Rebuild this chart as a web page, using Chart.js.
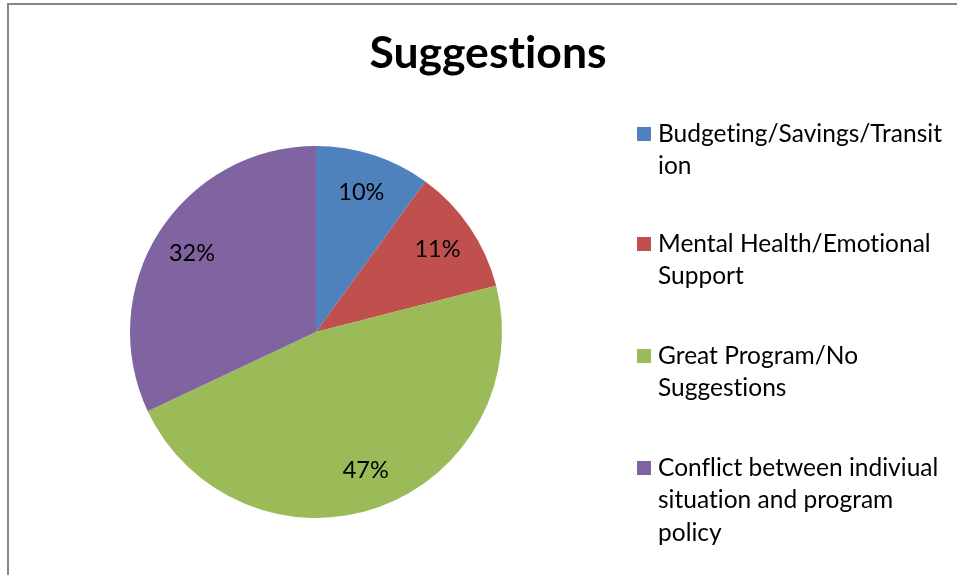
<!DOCTYPE html>
<html>
<head>
<meta charset="utf-8">
<script src="https://cdn.jsdelivr.net/npm/chart.js@4.4.1/dist/chart.umd.min.js"></script>
<style>
  html, body { margin: 0; padding: 0; background: #fff; overflow: hidden; }
  #frame {
    position: absolute; left: 7px; top: 3px;
    width: 960px; height: 600px;
    border: 2px solid #868686;
    background: #fff;
  }
</style>
</head>
<body>
<div id="frame"><canvas id="pie" width="960" height="600"></canvas></div>
<script>
// Datos del gráfico
const titleText = 'Suggestions';
const categories = [
    ['Budgeting/Savings/Transit', 'ion'],
    ['Mental Health/Emotional', 'Support'],
    ['Great Program/No', 'Suggestions'],
    ['Conflict between indiviual', 'situation and program', 'policy']
];
const percents = [10, 11, 47, 32];
const sliceColors = ['#4F81BD', '#C0504D', '#9BBB59', '#8064A2'];

const FONT = "Lato, 'Open Sans', sans-serif";

// Sin ligaduras (evita la "ti" unida de Lato)
function noLigatures(ctx) {
    if ('letterSpacing' in ctx) ctx.letterSpacing = '0.01px';
}

// Título, etiquetas de porcentaje y leyenda dibujados sobre el canvas
const decorations = {
    id: 'decorations',
    afterDatasetsDraw(chart) {
        const ctx = chart.ctx;
        const meta = chart.getDatasetMeta(0);
        ctx.save();
        ctx.fillStyle = '#000';
        ctx.textAlign = 'center';
        ctx.textBaseline = 'middle';
        ctx.font = '23.5px ' + FONT;
        meta.data.forEach((arc, i) => {
            const p = arc.getProps(['x', 'y', 'startAngle', 'endAngle', 'outerRadius'], true);
            const mid = (p.startAngle + p.endAngle) / 2;
            const r = p.outerRadius * 0.79;
            ctx.fillText(chart.data.datasets[0].data[i] + '%', p.x + Math.cos(mid) * r, p.y + Math.sin(mid) * r);
        });
        ctx.restore();
    },
    afterDraw(chart) {
        const ctx = chart.ctx;
        ctx.save();
        noLigatures(ctx);
        ctx.fillStyle = '#000';
        ctx.textAlign = 'center';
        ctx.textBaseline = 'alphabetic';
        ctx.font = 'bold 44.5px ' + FONT;
        ctx.fillText(titleText, 479, 63);

        // Leyenda a la derecha
        const itemTops = [129, 239, 351, 463];
        const lineH = 32.5;
        ctx.textAlign = 'left';
        ctx.textBaseline = 'middle';
        ctx.font = '24.5px ' + FONT;
        chart.data.labels.forEach((lines, i) => {
            const y = itemTops[i];
            ctx.fillStyle = chart.data.datasets[0].backgroundColor[i];
            ctx.fillRect(628, y - 7, 14, 14);
            ctx.fillStyle = '#000';
            lines.forEach((t, j) => ctx.fillText(t, 649, y + j * lineH));
        });
        ctx.restore();
    }
};

new Chart(document.getElementById('pie'), {
    type: 'pie',
    data: {
        labels: categories,
        datasets: [{
            data: percents,
            backgroundColor: sliceColors,
            borderWidth: 0,
            hoverOffset: 0
        }]
    },
    options: {
        responsive: false,
        animation: false,
        events: [],
        layout: { padding: { left: 121, top: 141, right: 467, bottom: 87 } },
        plugins: {
            legend: { display: false },
            tooltip: { enabled: false },
            title: { display: false }
        }
    },
    plugins: [decorations]
});
</script>
</body>
</html>
